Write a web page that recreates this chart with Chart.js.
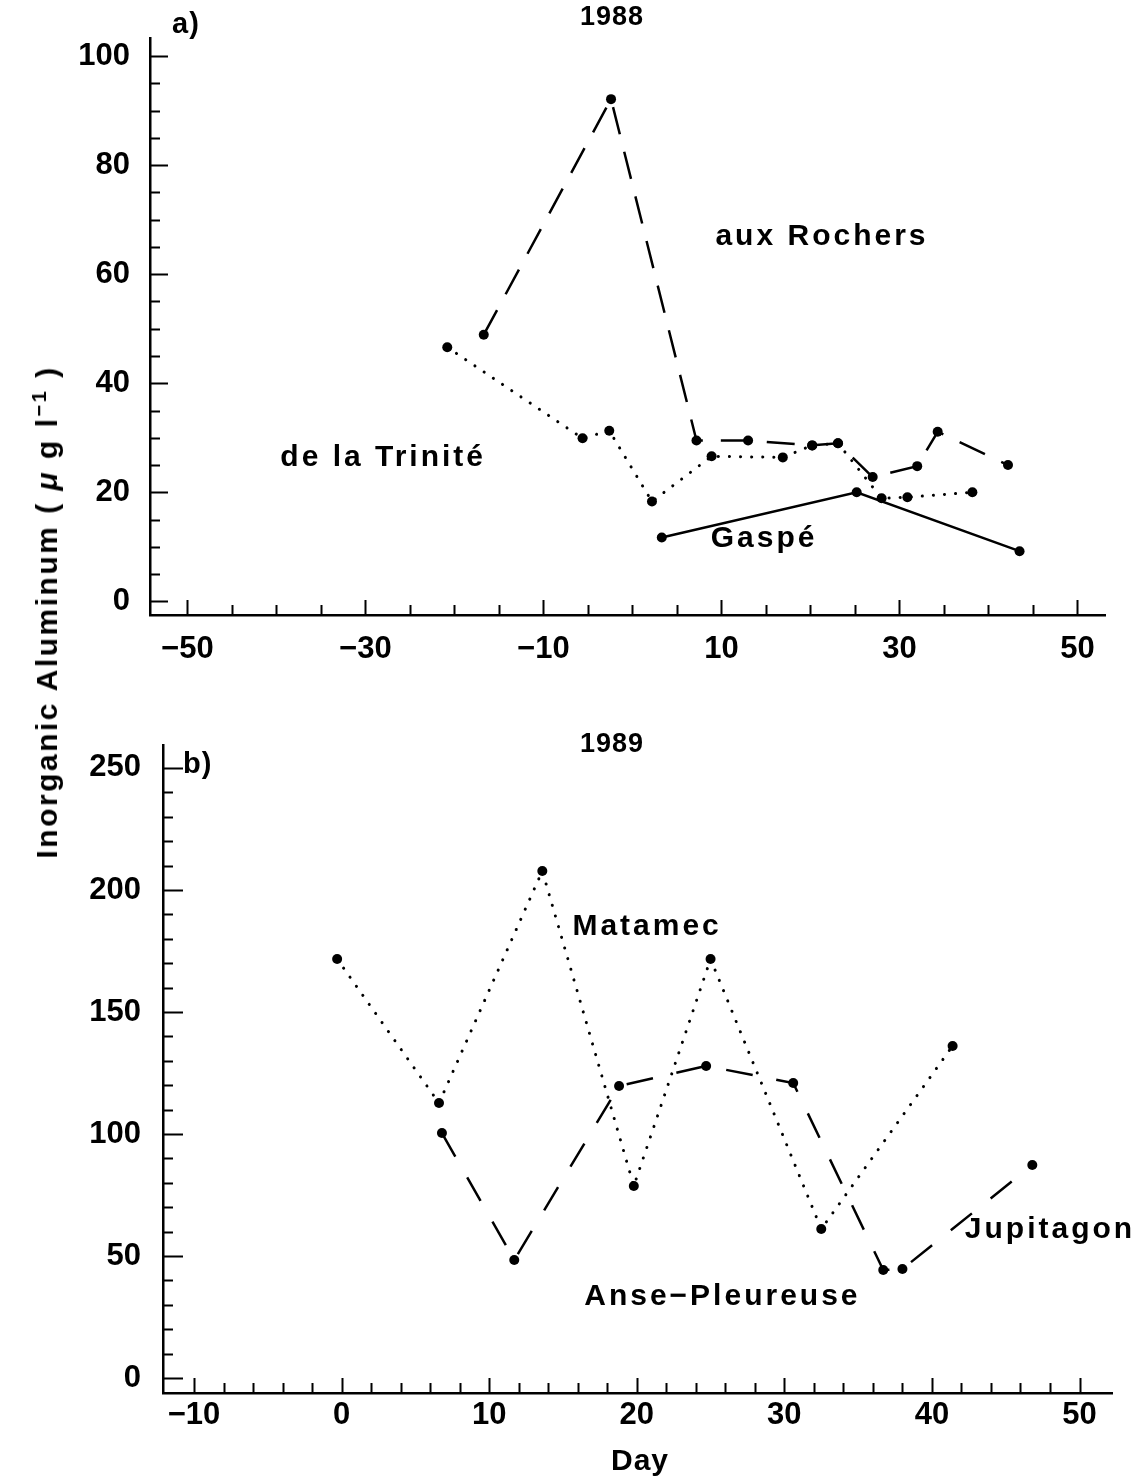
<!DOCTYPE html>
<html>
<head>
<meta charset="utf-8">
<script src="https://cdn.jsdelivr.net/npm/chart.js@4.4.0/dist/chart.umd.min.js"></script>
<style>
  body { margin: 0; background: #fff; }
  #page { position: relative; width: 1138px; height: 1483px; background: #fff; overflow: hidden; }
  canvas { position: absolute; left: 0; }
  #chart-a { top: 0; }
  #chart-b { top: 700px; }
  .ytitle {
    position: absolute; left: 46px; top: 612px;
    transform: translate(-50%, -50%) rotate(-90deg);
    white-space: nowrap;
    font: bold 30px "Liberation Sans", Arial, sans-serif;
    letter-spacing: 2.5px;
    color: #000;
  }
  .ytitle sup { font-size: 20px; }
</style>
</head>
<body>
<div id="page">
  <canvas id="chart-a" width="1138" height="700"></canvas>
  <canvas id="chart-b" width="1138" height="783"></canvas>
  <div class="ytitle">Inorganic Aluminum ( <i>μ</i> g l<sup>−1</sup> )</div>
</div>
<script>
// a) 1988
const rochersDays = [-16.7, -2.4, 7.2, 13.0, 20.2, 23.1, 27.0, 32.0, 34.3, 42.2];
const rochersAl = [48.9, 92.1, 29.5, 29.5, 28.6, 29.0, 22.8, 24.8, 31.1, 25.0];
const triniteDays = [-20.8, -5.6, -2.6, 2.2, 8.9, 16.9, 20.2, 23.1, 28.0, 30.9, 38.2];
const triniteAl = [46.6, 29.9, 31.3, 18.3, 26.6, 26.4, 28.6, 29.0, 18.9, 19.1, 20.0];
const gaspeDays = [3.3, 25.2, 43.5];
const gaspeAl = [11.7, 20.0, 9.2];

// b) 1989
const matamecDays = [-0.3, 6.6, 13.6, 19.8, 25.0, 32.5, 41.4];
const matamecAl = [171.7, 112.7, 207.8, 78.7, 171.7, 61.1, 136.1];
const anseDays = [6.8, 11.7, 18.8, 24.7, 30.6, 36.7, 38.0, 46.8];
const anseAl = [100.4, 48.4, 119.7, 127.9, 120.9, 44.3, 44.7, 87.3];

// tick labels
const xLabelsA = [-50, -30, -10, 10, 30, 50];
const yLabelsA = [0, 20, 40, 60, 80, 100];
const xLabelsB = [-10, 0, 10, 20, 30, 40, 50];
const yLabelsB = [0, 50, 100, 150, 200, 250];

const FONT = '"Liberation Sans", Arial, sans-serif';

function pts(xs, ys) {
  return xs.map((x, i) => ({ x: x, y: ys[i] }));
}
function range(from, to, step) {
  const out = [];
  for (let v = from; v <= to; v += step) out.push(v);
  return out;
}
function fmt(v) {
  return v < 0 ? '\u2212' + Math.abs(v) : String(v);
}

// tick marks pointing into the plot, long ones where a label sits
const innerTicks = {
  id: 'innerTicks',
  afterDraw(chart, args, opts) {
    const { ctx, chartArea } = chart;
    const sx = chart.scales.x, sy = chart.scales.y;
    ctx.save();
    ctx.strokeStyle = '#000';
    ctx.lineWidth = 2;
    ctx.beginPath();
    sx.ticks.forEach(t => {
      const px = Math.round(sx.getPixelForValue(t.value)) + 0.5;
      const len = t.label !== '' ? opts.xLong : opts.xShort;
      ctx.moveTo(px, chartArea.bottom);
      ctx.lineTo(px, chartArea.bottom - len);
    });
    sy.ticks.forEach(t => {
      const py = Math.round(sy.getPixelForValue(t.value)) + 0.5;
      const len = t.label !== '' ? opts.yLong : opts.yShort;
      ctx.moveTo(chartArea.left, py);
      ctx.lineTo(chartArea.left + len, py);
    });
    ctx.stroke();
    ctx.restore();
  }
};

// series names at data positions, plus panel title and letter
const texts = {
  id: 'texts',
  afterDraw(chart, args, opts) {
    const { ctx } = chart;
    const sx = chart.scales.x, sy = chart.scales.y;
    ctx.save();
    ctx.fillStyle = '#000';
    ctx.textBaseline = 'middle';
    (opts.notes || []).forEach(n => {
      ctx.letterSpacing = '3px';
      ctx.font = 'bold ' + n.size + 'px ' + FONT;
      ctx.textAlign = n.align || 'center';
      ctx.fillText(n.text, sx.getPixelForValue(n.x), sy.getPixelForValue(n.y));
    });
    (opts.fixed || []).forEach(n => {
      ctx.letterSpacing = '1px';
      ctx.font = 'bold ' + n.size + 'px ' + FONT;
      ctx.textAlign = n.align || 'center';
      ctx.fillText(n.text, n.px, n.py);
    });
    ctx.restore();
  }
};

function lineSet(data, style) {
  const ds = {
    data: data,
    borderColor: '#000',
    backgroundColor: '#000',
    pointBackgroundColor: '#000',
    pointBorderWidth: 0,
    pointRadius: 5,
    borderWidth: 2.5,
    tension: 0,
    fill: false
  };
  if (style === 'dashed') ds.borderDash = [28, 18];
  if (style === 'dashed2') ds.borderDash = [27, 24];
  if (style === 'dotted') {
    ds.borderDash = [0.1, 11];
    ds.borderCapStyle = 'round';
    ds.borderWidth = 3;
  }
  return ds;
}

function makeOptions(cfg) {
  return {
    responsive: false,
    animation: false,
    devicePixelRatio: 1,
    layout: { padding: cfg.padding },
    plugins: {
      legend: { display: false },
      tooltip: { enabled: false },
      innerTicks: cfg.ticks,
      texts: { notes: cfg.notes, fixed: cfg.fixed }
    },
    scales: {
      x: {
        type: 'linear',
        min: cfg.xMin,
        max: cfg.xMax,
        afterBuildTicks: s => { s.ticks = range(cfg.xFrom, cfg.xTo, cfg.xStep).map(v => ({ value: v })); },
        afterFit: s => { s.height = cfg.xHeight; },
        grid: { display: false, drawTicks: false },
        border: { display: true, color: '#000', width: 2.5 },
        ticks: {
          autoSkip: false,
          maxRotation: 0,
          padding: cfg.xPad,
          color: '#000',
          font: { family: FONT, size: 31, weight: 'bold' },
          callback: v => cfg.xLabels.includes(v) ? fmt(v) : ''
        }
      },
      y: {
        type: 'linear',
        min: cfg.yMin,
        max: cfg.yMax,
        afterBuildTicks: s => { s.ticks = range(cfg.yFrom, cfg.yTo, cfg.yStep).map(v => ({ value: v })); },
        afterFit: s => { s.width = cfg.yWidth; },
        grid: { display: false, drawTicks: false },
        border: { display: true, color: '#000', width: 2.5 },
        ticks: {
          autoSkip: false,
          padding: cfg.yPad,
          color: '#000',
          font: { family: FONT, size: 31, weight: 'bold' },
          callback: v => cfg.yLabels.includes(v) ? fmt(v) : ''
        }
      }
    }
  };
}

new Chart(document.getElementById('chart-a'), {
  type: 'line',
  data: {
    datasets: [
      lineSet(pts(rochersDays, rochersAl), 'dashed'),
      lineSet(pts(triniteDays, triniteAl), 'dotted'),
      lineSet(pts(gaspeDays, gaspeAl), 'solid')
    ]
  },
  options: makeOptions({
    padding: { left: 0, top: 27, right: 33, bottom: 0 },
    xMin: -54.2, xMax: 53.1, xFrom: -50, xTo: 50, xStep: 5, xLabels: xLabelsA,
    yMin: -2.5, yMax: 103.2, yFrom: 0, yTo: 100, yStep: 5, yLabels: yLabelsA,
    xHeight: 85, yWidth: 150, xPad: 16, yPad: 20,
    ticks: { xLong: 15, xShort: 10, yLong: 18, yShort: 10 },
    notes: [
      { text: 'aux Rochers', x: 21.3, y: 66.9, size: 30 },
      { text: 'de la Trinité', x: -28.0, y: 26.3, size: 30 },
      { text: 'Gaspé', x: 14.8, y: 11.5, size: 30 }
    ],
    fixed: [
      { text: '1988', px: 612, py: 18, size: 27 },
      { text: 'a)', px: 172, py: 25, size: 29, align: 'left' }
    ]
  }),
  plugins: [innerTicks, texts]
});

new Chart(document.getElementById('chart-b'), {
  type: 'line',
  data: {
    datasets: [
      lineSet(pts(anseDays, anseAl), 'dashed2'),
      lineSet(pts(matamecDays, matamecAl), 'dotted')
    ]
  },
  options: makeOptions({
    padding: { left: 0, top: 45, right: 26, bottom: 0 },
    xMin: -12.1, xMax: 52.2, xFrom: -10, xTo: 50, xStep: 2, xLabels: xLabelsB,
    yMin: -6.1, yMax: 259.4, yFrom: 0, yTo: 250, yStep: 10, yLabels: yLabelsB,
    xHeight: 90, yWidth: 163, xPad: 4, yPad: 22,
    ticks: { xLong: 15, xShort: 10, yLong: 20, yShort: 10 },
    notes: [
      { text: 'Matamec', x: 20.7, y: 184.8, size: 30 },
      { text: 'Jupitagon', x: 48.0, y: 60.7, size: 30 },
      { text: 'Anse\u2212Pleureuse', x: 25.8, y: 33.2, size: 30 }
    ],
    fixed: [
      { text: '1989', px: 612, py: 45, size: 27 },
      { text: 'b)', px: 183, py: 65, size: 29, align: 'left' },
      { text: 'Day', px: 640, py: 762, size: 30 }
    ]
  }),
  plugins: [innerTicks, texts]
});
</script>
</body>
</html>
